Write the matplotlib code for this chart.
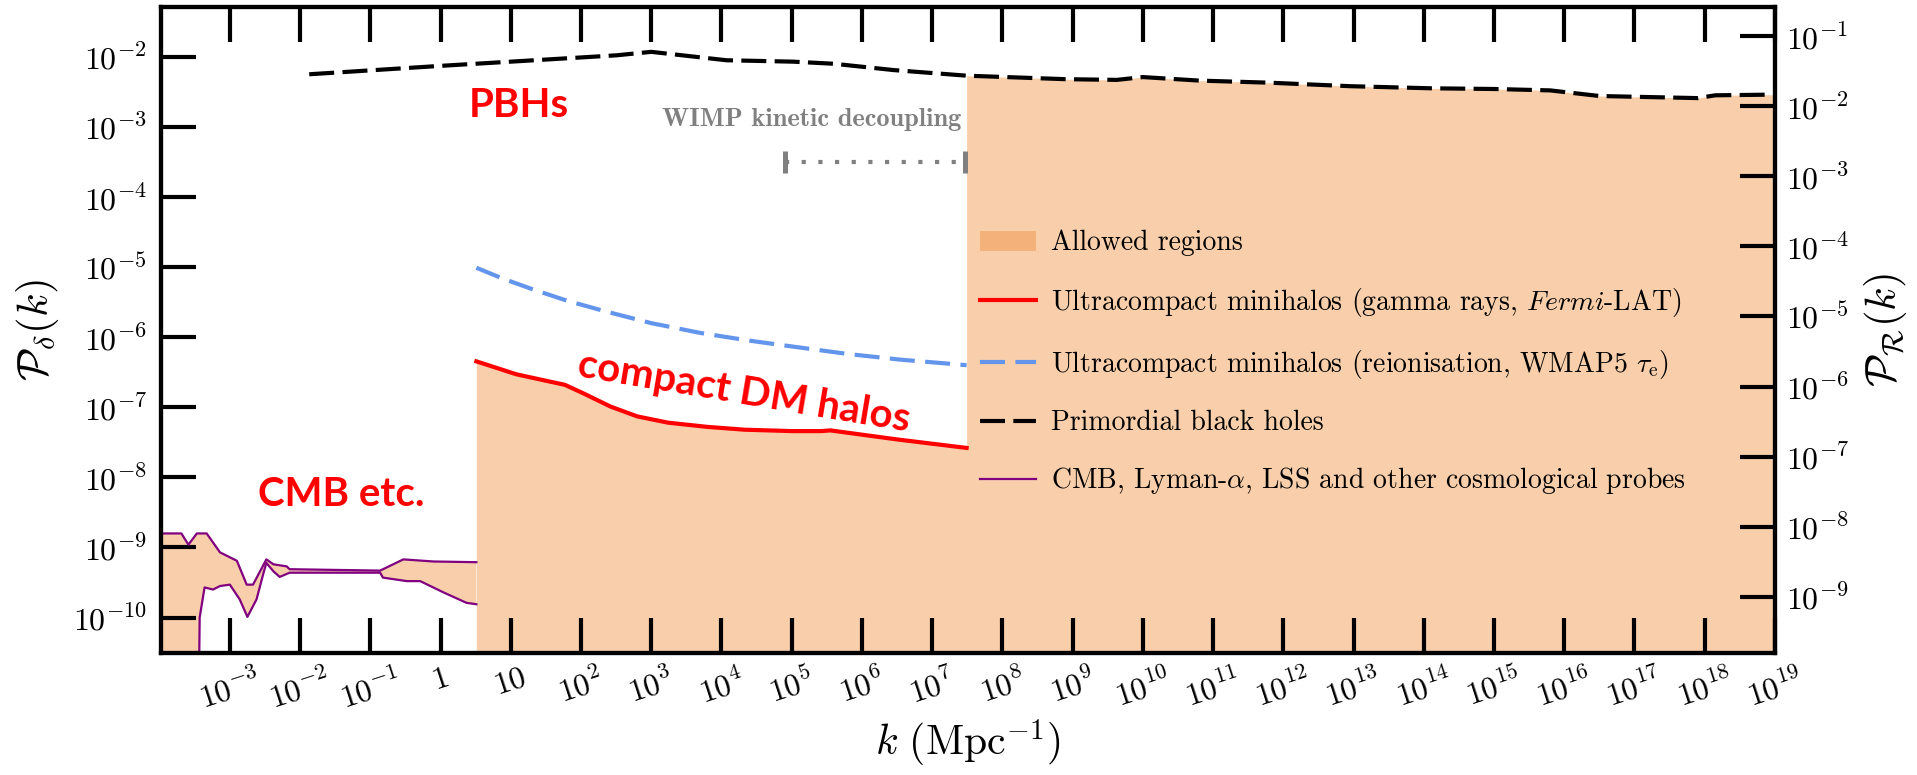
import numpy as np
import matplotlib.pyplot as plt
from matplotlib.patches import Patch
from matplotlib.lines import Line2D
from matplotlib.ticker import NullLocator

# --- data (log10 values) ---
pbh_logk = [-1.87, 0.0, 1.0, 2.0, 2.5, 3.0, 4.07, 5.02, 5.6, 6.45, 7.49, 8.9, 9.63,
            10.0, 10.8, 11.8, 12.95, 14.1, 15.0, 15.8, 16.5, 17.9, 18.15, 19.0]
pbh_logp = [-2.25, -2.13, -2.07, -2.01, -1.98, -1.93, -2.05, -2.07, -2.10, -2.19, -2.27, -2.32, -2.33,
            -2.29, -2.34, -2.37, -2.42, -2.45, -2.46, -2.48, -2.56, -2.59, -2.55, -2.54]

red_logk = [0.51, 1.08, 1.77, 2.03, 2.42, 2.8, 3.24, 3.8, 4.33, 5.0, 5.42, 5.55, 6.51, 7.49]
red_logp = [-6.345, -6.53, -6.68, -6.80, -6.99, -7.13, -7.22, -7.28, -7.32, -7.34, -7.34, -7.33, -7.46, -7.58]

blue_logk = [0.51, 0.9, 1.32, 1.8, 2.34, 3.0, 3.70, 4.4, 5.13, 5.8, 6.54, 7.49]
blue_logp = [-5.01, -5.17, -5.32, -5.48, -5.63, -5.80, -5.94, -6.05, -6.15, -6.24, -6.32, -6.40]

cmb_up_logk = [-4.0, -3.69, -3.59, -3.47, -3.33, -3.14, -2.90, -2.76, -2.67, -2.48, -2.38,
               -2.19, -2.15, -0.86, -0.53, -0.10, 0.51]
cmb_up_logp = [-8.80, -8.80, -8.96, -8.80, -8.80, -9.07, -9.19, -9.53, -9.53, -9.17, -9.24,
               -9.27, -9.31, -9.33, -9.17, -9.20, -9.21]

cmb_lo_logk = [-4.0, -3.45, -3.43, -3.36, -3.24, -3.14, -3.0, -2.86, -2.75, -2.62, -2.52,
               -2.48, -2.38, -2.29, -2.15, -0.86, -0.82, -0.48, -0.29, 0.04, 0.37, 0.51]
cmb_lo_logp = [-12.0, -12.0, -10.0, -9.57, -9.60, -9.55, -9.53, -9.74, -9.99, -9.74, -9.36,
               -9.22, -9.34, -9.42, -9.36, -9.36, -9.43, -9.48, -9.48, -9.64, -9.79, -9.81]

wimp_logk = [4.9, 7.47]
wimp_logp = -3.50

x_ticks = list(range(-3, 20))
x_tick_labels = ['$10^{-3}$', '$10^{-2}$', '$10^{-1}$', '$1$', '$10$'] + \
                ['$10^{%d}$' % n for n in range(2, 20)]
y_ticks = list(range(-10, -1))
y2_ticks = list(range(-9, 0))

fill_col = '#F8CFAA'
patch_col = '#F4B27A'

plt.rcParams['mathtext.fontset'] = 'cm'
plt.rcParams['font.family'] = 'serif'
plt.rcParams['font.serif'] = ['cmr10']
plt.rcParams['axes.unicode_minus'] = False

fig = plt.figure(figsize=(19.17, 7.75), dpi=100)
ax = fig.add_axes([0.0840, 0.1570, 0.8419, 0.8340])
ax.set_xscale('log')
ax.set_yscale('log')
xlim = (10 ** -3.98, 1e19)
ylim = (10 ** -10.51, 10 ** -1.29)
ax.set_xlim(xlim)
ax.set_ylim(ylim)

pk = 10.0 ** np.array(pbh_logk)
pp = 10.0 ** np.array(pbh_logp)
rk = 10.0 ** np.array(red_logk)
rp = 10.0 ** np.array(red_logp)
bk = 10.0 ** np.array(blue_logk)
bp = 10.0 ** np.array(blue_logp)
uk = 10.0 ** np.array(cmb_up_logk)
up = 10.0 ** np.array(cmb_up_logp)
lk = 10.0 ** np.array(cmb_lo_logk)
lp = 10.0 ** np.array(cmb_lo_logp)

# allowed regions
ax.fill(np.concatenate([uk, lk[::-1]]), np.concatenate([up, lp[::-1]]),
        color=fill_col, lw=0, zorder=1)
right = np.array(pbh_logk) >= 7.49
fk = np.concatenate([rk, pk[right]])
fp = np.concatenate([rp, pp[right]])
ax.fill_between(fk, 1e-12, fp, color=fill_col, lw=0, zorder=1)

ax.plot(uk, up, color='#800080', lw=1.6, zorder=3)
ax.plot(lk[1:], lp[1:], color='#800080', lw=1.6, zorder=3)
ax.plot(rk, rp, color='red', lw=3, zorder=3)
ax.plot(bk, bp, color='#6495ED', lw=3, dashes=(6, 2.5), zorder=3)
ax.plot(pk, pp, color='black', lw=3, dashes=(6, 2), zorder=3)

# WIMP kinetic decoupling range
wk = 10.0 ** np.array(wimp_logk)
wp = [10 ** wimp_logp] * 2
ax.plot(wk, wp, color='gray', lw=3, dashes=(1, 3), zorder=3)
ax.plot(wk, wp, ls='none', marker='|', ms=16, mew=3.6, color='gray', zorder=3)
ax.text(10 ** 7.42, 10 ** -2.90, 'WIMP kinetic decoupling', color='gray',
        fontsize=19, family='cmb10', ha='right', va='center')

# annotations
ann = dict(color='red', fontsize=29, fontweight='bold', family='Lato',
           ha='center', va='center')
ax.text(10 ** 1.117, 10 ** -2.70, 'PBHs', **ann)
ax.text(10 ** -1.42, 10 ** -8.24, 'CMB etc.', **ann)
ax.text(10 ** 4.32, 10 ** -6.79, 'compact DM halos', rotation=-9.5, **ann)

# ticks
ax.set_xticks(10.0 ** np.array(x_ticks))
ax.set_xticklabels(x_tick_labels)
ax.set_yticks(10.0 ** np.array(y_ticks))
ax.set_yticklabels(['$10^{%d}$' % n for n in y_ticks])
ax.xaxis.set_minor_locator(NullLocator())
ax.yaxis.set_minor_locator(NullLocator())
ax.tick_params(axis='both', which='major', direction='in', length=25, width=3,
               labelsize=23)
ax.tick_params(axis='x', top=True, bottom=True, pad=8, labelrotation=18)
ax.tick_params(axis='y', left=True, right=False, pad=10)

ax2 = ax.twinx()
ax2.set_yscale('log')
ax2.set_ylim(ylim[0] * 81 / 16, ylim[1] * 81 / 16)
ax2.set_yticks(10.0 ** np.array(y2_ticks))
ax2.set_yticklabels(['$10^{%d}$' % n for n in y2_ticks])
ax2.yaxis.set_minor_locator(NullLocator())
ax2.tick_params(axis='y', which='major', direction='in', length=25, width=3,
                labelsize=23, pad=8)

for a in (ax, ax2):
    for s in a.spines.values():
        s.set_linewidth(3)

ax.set_xlabel(r'$k\ (\mathrm{Mpc}^{-1})$', fontsize=30)
ax.xaxis.set_label_coords(0.5, -0.10)
ax.set_ylabel(r'$\mathcal{P}_\delta(k)$', fontsize=31)
ax.yaxis.set_label_coords(-0.062, 0.5)
ax2.set_ylabel(r'$\mathcal{P}_\mathcal{R}(k)$', fontsize=31)
ax2.yaxis.set_label_coords(1.054, 0.5)

handles = [Patch(facecolor=patch_col, edgecolor='none'),
           Line2D([], [], color='red', lw=3),
           Line2D([], [], color='#6495ED', lw=3, dashes=(6, 2.5)),
           Line2D([], [], color='black', lw=3, dashes=(6, 2)),
           Line2D([], [], color='#800080', lw=1.6)]
labels = ['Allowed regions',
          r'Ultracompact minihalos (gamma rays, $\mathit{Fermi}$-LAT)',
          r'Ultracompact minihalos (reionisation, WMAP5 $\tau_\mathrm{e}$)',
          'Primordial black holes',
          r'CMB, Lyman-$\alpha$, LSS and other cosmological probes']
ax2.legend(handles, labels, loc='upper left', bbox_to_anchor=(980 / 1917, 1 - 230 / 775),
           bbox_transform=fig.transFigure, frameon=False, fontsize=20,
           labelspacing=1.05, handlelength=2.0, handletextpad=0.55,
           borderpad=0, borderaxespad=0)

plt.savefig('out.png', dpi=100)
